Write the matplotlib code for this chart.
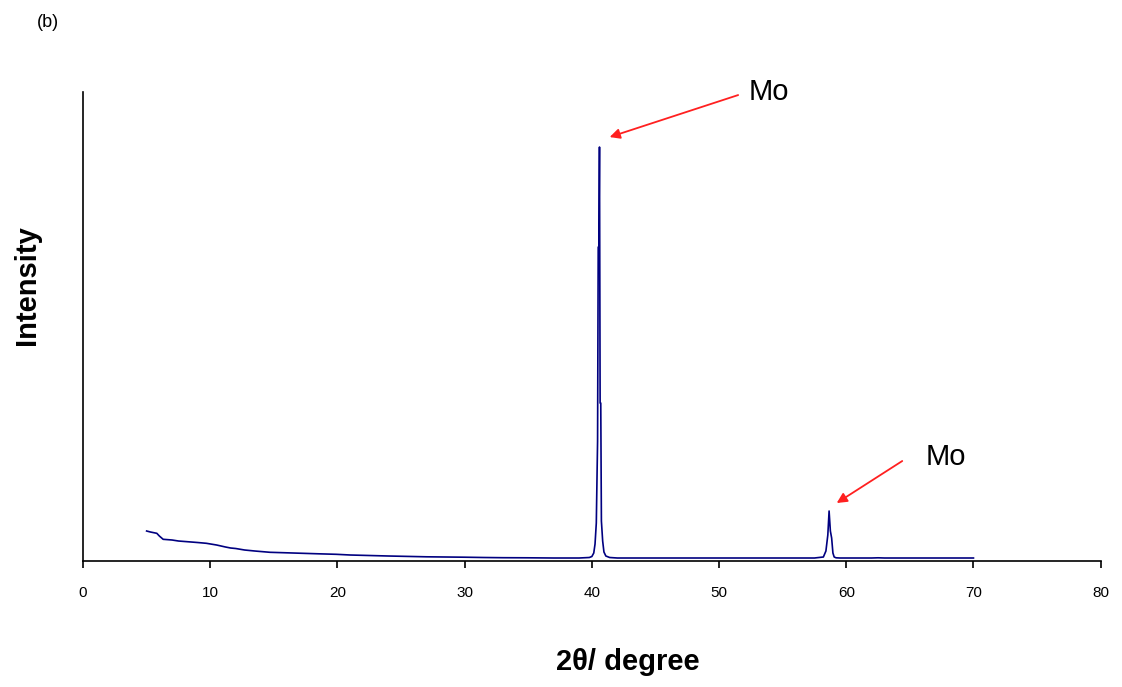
import matplotlib
matplotlib.use("Agg")
import matplotlib.pyplot as plt

plt.rcParams['font.family'] = ['Liberation Sans', 'DejaVu Sans']

# XRD scan: 2-theta (degree) and intensity (counts)
two_theta = [5.0, 5.3, 5.8, 6.0, 6.3, 7.0, 7.5, 8.0, 8.5, 9.0, 9.7, 10.5, 11.2, 11.6,
             12.0, 12.7, 13.5, 14.7, 16.0, 17.5, 18.5, 19.9, 21.0, 22.5, 24.0, 25.5,
             27.0, 28.5, 30.0, 31.5, 33.0, 35.0, 37.0, 39.0, 39.8, 40.0, 40.15,
             40.25, 40.35, 40.45, 40.5, 40.55, 40.6, 40.65, 40.7, 40.75, 40.85,
             40.95, 41.1, 41.4, 42.0, 44.0, 46.0, 48.0, 50.0, 52.0, 54.0, 56.0,
             57.5, 58.2, 58.4, 58.55, 58.65, 58.75, 58.85, 58.95, 59.05, 59.2,
             59.5, 60.0, 61.0, 62.0, 62.5, 63.0, 64.0, 66.0, 68.0, 70.0]
intensity = [300, 290, 277, 250, 217, 210, 200, 195, 190, 185, 177, 160, 140, 130,
             125, 110, 100, 87, 82, 76, 72, 67, 60, 55, 50, 46,
             42, 40, 38, 35, 33, 32, 30, 30, 35, 45, 80,
             170, 380, 1200, 3140, 3140, 4140, 1580, 1580, 400, 200,
             90, 50, 35, 30, 30, 30, 30, 30, 30, 30, 30,
             30, 40, 100, 260, 500, 300, 230, 80, 40, 32,
             30, 30, 30, 30, 32, 30, 30, 30, 30, 30]

# Peak annotations: label text, label position, arrow tail and arrow tip
peak_label = ["Mo", "Mo"]
label_xy = [(53.9, 4690), (67.8, 1040)]
arrow_tail = [(51.5, 4660), (64.4, 1000)]
arrow_tip = [(41.4, 4240), (59.25, 580)]

fig = plt.figure(figsize=(11.22, 6.87), dpi=100)
ax = fig.add_axes([0.074, 0.1834, 0.907, 0.6826])

ax.plot(two_theta, intensity, color='#000080', lw=1.2)

ax.set_xlim(0, 80)
ax.set_ylim(0, 4690)
ax.set_xticks(range(0, 81, 10))
ax.set_yticks([])
ax.tick_params(axis='x', direction='out', length=5, width=1.2, labelsize=11, pad=13)
for s in ['top', 'right']:
    ax.spines[s].set_visible(False)
for s in ['left', 'bottom']:
    ax.spines[s].set_linewidth(1.2)

ax.set_xlabel('2θ/ degree', fontsize=21, fontweight='bold')
ax.xaxis.set_label_coords(0.535, -0.185)
ax.set_ylabel('Intensity', fontsize=21, fontweight='bold')
ax.yaxis.set_label_coords(-0.041, 0.588)

for lab, xy, tail, tip in zip(peak_label, label_xy, arrow_tail, arrow_tip):
    ax.text(xy[0], xy[1], lab, fontsize=21, ha='center', va='center')
    ax.annotate('', xy=tip, xytext=tail,
                arrowprops=dict(arrowstyle='-|>', color='#ff2020', lw=1.3,
                                mutation_scale=15, shrinkA=0, shrinkB=0))

fig.text(0.043, 0.967, '(b)', fontsize=13, ha='center', va='center')

fig.savefig('out.png', dpi=100)
